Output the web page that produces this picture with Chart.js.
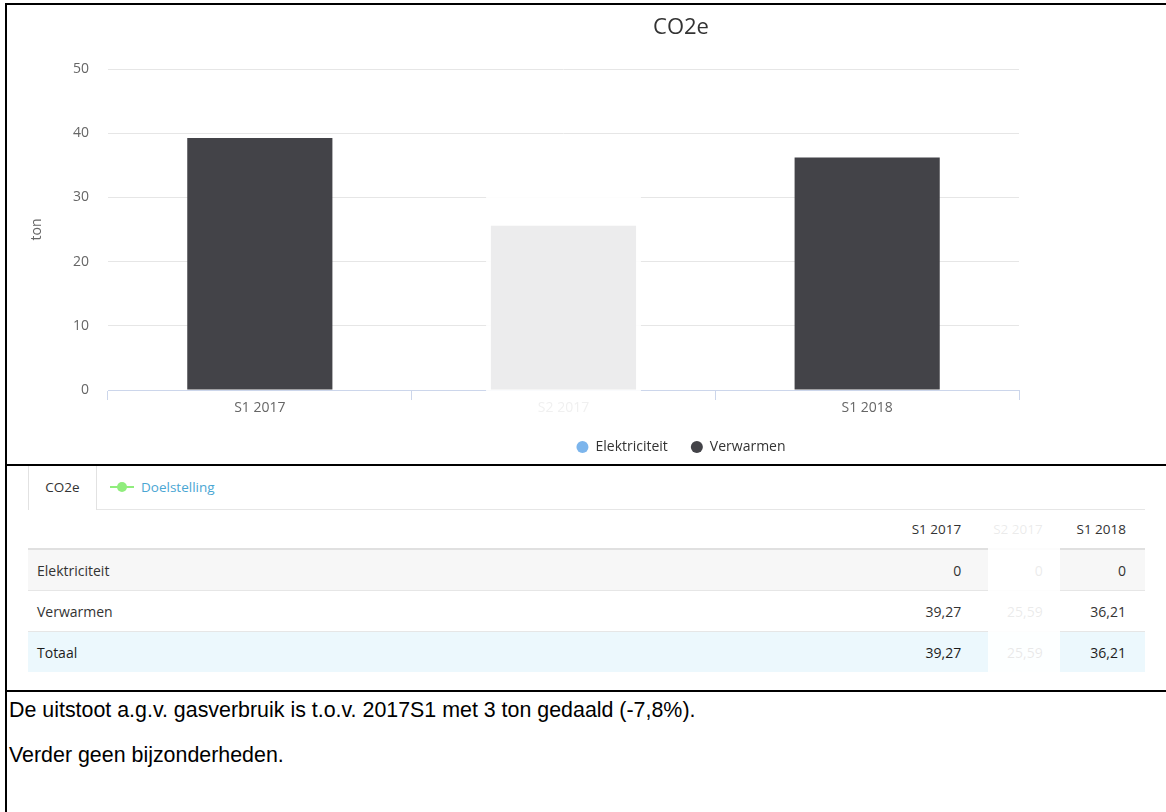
<!DOCTYPE html>
<html lang="nl">
<head>
<meta charset="utf-8">
<title>CO2e</title>
<script src="https://cdn.jsdelivr.net/npm/chart.js@4/dist/chart.umd.min.js"></script>
<style>
  html, body { margin: 0; padding: 0; background: #fff; overflow: hidden; }
  body { width: 1166px; height: 812px; position: relative; font-family: 'Open Sans', sans-serif; }
  .rule { position: absolute; background: #000; }
  #chartClip { position: absolute; left: 7px; top: 5px; width: 1159px; height: 459px; overflow: hidden; }
  #chartBox { position: relative; width: 1348px; height: 459px; }
  .tab { position: absolute; left: 28px; top: 466px; width: 67px; height: 44px;
         border-left: 1px solid #e2e2e2; border-right: 1px solid #e2e2e2; background: #fff;
         font-size: 13.5px; color: #333; line-height: 42px; text-align: center; z-index: 2; }
  .tabLine { position: absolute; left: 28px; top: 509px; width: 1117px; height: 1px; background: #e6e6e6; }
  .goal { position: absolute; left: 110px; top: 476px; height: 22px; line-height: 22px;
          font-size: 13.5px; color: #4aa6d3; }
  .goal .icon { position: absolute; left: 0; top: 10px; width: 24px; height: 2px; background: #90ed7d; }
  .goal .dot { position: absolute; left: 7px; top: 6px; width: 10px; height: 10px; border-radius: 50%; background: #90ed7d; }
  .goal span { position: absolute; left: 31px; top: 0; white-space: nowrap; }
  table { position: absolute; left: 28px; top: 510px; width: 1117px; border-collapse: collapse;
          font-size: 14px; color: #333; }
  th, td { padding: 0; height: 40px; }
  th { font-weight: normal; font-size: 13.5px; height: 38px; border-bottom: 2px solid #e0e0e0; text-align: right; }
  td { border-bottom: 1px solid #e6e6e6; }
  td.name { padding-left: 9px; text-align: left; }
  td.num { text-align: right; }
  tr.alt td { background: #f7f7f7; }
  tr.total td { background: #ecf8fd; border-bottom: none; color: #1c1c1c; }
  .c1 { width: 929px; padding-right: 31px; }
  .c2 { width: 52px; padding-right: 20px; }
  .c3 { width: 66px; padding-right: 19px; }
  .fade { position: absolute; left: 988px; top: 511px; width: 72px; height: 162px; background: rgba(255,255,255,0.9); }
  .note { position: absolute; left: 9px; font-family: 'Liberation Sans', Arial, sans-serif; font-size: 21.4px;
          color: #000; white-space: nowrap; line-height: 24px; }
</style>
</head>
<body>
<div class="rule" style="left:5px;top:3px;width:1161px;height:2px"></div>
<div class="rule" style="left:5px;top:3px;width:2px;height:809px"></div>
<div class="rule" style="left:5px;top:464px;width:1161px;height:2px"></div>
<div class="rule" style="left:5px;top:690px;width:1161px;height:2px"></div>

<div id="chartClip"><div id="chartBox"><canvas id="chart"></canvas></div></div>

<div class="tabLine"></div>
<div class="tab">CO2e</div>
<div class="goal"><div class="icon"></div><div class="dot"></div><span>Doelstelling</span></div>
<table id="dataTable"></table>
<div class="fade"></div>

<div class="note" style="top:698px">De uitstoot a.g.v. gasverbruik is t.o.v. 2017S1 met 3 ton gedaald (-7,8%).</div>
<div class="note" style="top:743px">Verder geen bijzonderheden.</div>

<script>
// Half-year periods and the CO2e (ton) per source
const categories = ['S1 2017', 'S2 2017', 'S1 2018'];
const elektriciteit = [0, 0, 0];
const verwarmen = [39.27, 25.59, 36.21];
const seriesNames = ['Elektriciteit', 'Verwarmen'];
const totalLabel = 'Totaal';
const fadedIndex = 1;          // period shown greyed out
const yMin = 0, yMax = 50, yStep = 10;

const FONT = "'Open Sans', sans-serif";
Chart.defaults.font.family = FONT;

// White veil over the greyed-out period column
const fadeColumn = {
  id: 'fadeColumn',
  afterDraw(chart) {
    const { ctx, scales: { x, y }, chartArea } = chart;
    const step = x.getPixelForValue(1) - x.getPixelForValue(0);
    const cx = x.getPixelForValue(fadedIndex);
    const half = step * 0.255;
    const top = y.getPixelForValue(30) - 1;
    const bottom = chartArea.bottom + 35;
    ctx.save();
    ctx.fillStyle = 'rgba(255,255,255,0.9)';
    ctx.fillRect(cx - half, top, half * 2, bottom - top);
    ctx.restore();
  }
};

new Chart(document.getElementById('chart'), {
  type: 'bar',
  data: {
    labels: categories,
    datasets: [
      { label: seriesNames[0], data: elektriciteit, backgroundColor: '#7cb5ec', borderWidth: 0,
        barPercentage: 0.478, categoryPercentage: 1 },
      { label: seriesNames[1], data: verwarmen, backgroundColor: '#434348', borderWidth: 0,
        barPercentage: 0.478, categoryPercentage: 1 }
    ]
  },
  options: {
    responsive: true,
    maintainAspectRatio: false,
    animation: false,
    layout: { padding: { left: 0, right: 0, top: 0, bottom: 0 } },
    plugins: {
      title: {
        display: true, text: 'CO2e', color: '#333333',
        font: { family: FONT, size: 22, weight: 'normal' },
        padding: { top: 9.5, bottom: 28.1 }
      },
      legend: {
        position: 'bottom',
        labels: {
          usePointStyle: true, pointStyle: 'circle', boxWidth: 12, boxHeight: 8.5,
          padding: 23, color: '#333333', font: { family: FONT, size: 14 }
        }
      },
      tooltip: { enabled: false }
    },
    scales: {
      x: {
        stacked: true,
        grid: { offset: true, drawOnChartArea: false, drawTicks: true, tickLength: 10, color: '#ccd6eb' },
        border: { color: '#ccd6eb', width: 1 },
        ticks: { color: '#666666', font: { family: FONT, size: 14 }, padding: 0 },
        afterFit(s) { s.height = 27; }
      },
      y: {
        stacked: true, min: yMin, max: yMax,
        ticks: { stepSize: yStep, padding: 19, color: '#666666', font: { family: FONT, size: 14 } },
        grid: { drawTicks: false, color: (c) => (c.tick && c.tick.value === 0 ? 'rgba(0,0,0,0)' : '#e6e6e6') },
        border: { display: false },
        title: { display: true, text: 'ton', color: '#666666', font: { family: FONT, size: 14 },
                 padding: { top: 21.6, bottom: 0 } },
        afterFit(s) { s.width = 101; }
      },
      side: {
        position: 'right', display: true,
        ticks: { display: false }, grid: { display: false }, border: { display: false },
        afterFit(s) { s.width = 336; }
      }
    }
  },
  plugins: [fadeColumn]
});

// Data table under the chart, built from the same arrays
function fmt(v) {
  const r = Math.round(v * 100) / 100;
  return String(r).replace('.', ',');
}
const colClass = ['c1', 'c2', 'c3'];
const table = document.getElementById('dataTable');
let html = '<tr><th></th>';
categories.forEach((c, i) => { html += '<th class="' + colClass[i] + '">' + c + '</th>'; });
html += '</tr>';
const rows = [
  { name: seriesNames[0], values: elektriciteit, cls: 'alt' },
  { name: seriesNames[1], values: verwarmen, cls: '' },
  { name: totalLabel, values: categories.map((_, i) => elektriciteit[i] + verwarmen[i]), cls: 'total' }
];
rows.forEach(r => {
  html += '<tr class="' + r.cls + '"><td class="name">' + r.name + '</td>';
  r.values.forEach((v, i) => { html += '<td class="num ' + colClass[i] + '">' + fmt(v) + '</td>'; });
  html += '</tr>';
});
table.innerHTML = html;
</script>
</body>
</html>
